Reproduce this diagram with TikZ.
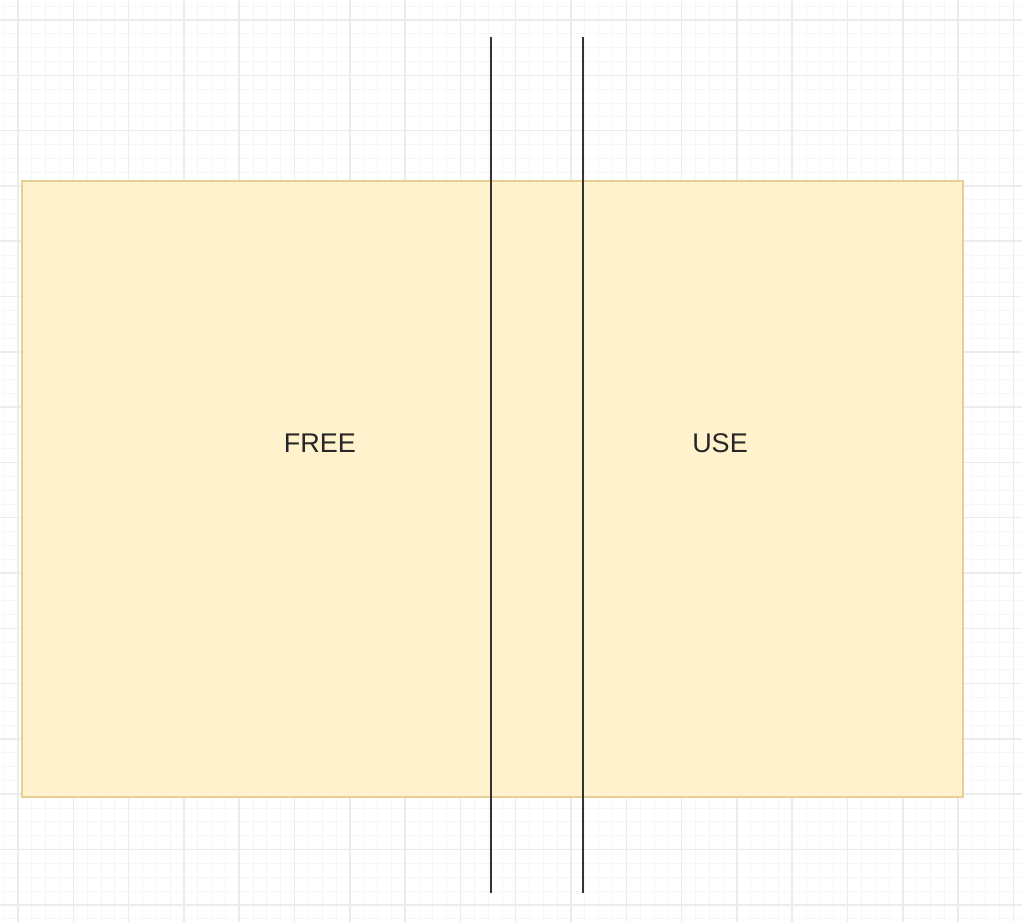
\documentclass[tikz,border=0pt]{standalone}
\usepackage{fontspec}
\setmainfont{Liberation Sans}
\definecolor{boxfill}{HTML}{FFF2CC}
\definecolor{boxline}{HTML}{E8CF95}
\definecolor{gridminor}{HTML}{F6F6F8}
\definecolor{gridmajor}{HTML}{ECECF0}
\tikzset{
	region/.style={draw=boxline,fill=boxfill,line width=1.2pt},
	lbl/.style={font=\fontsize{27}{30}\selectfont,text=black!85},
	wall/.style={draw=black!80,line width=1.6pt}
}

\begin{document}
\begin{tikzpicture}[x=1pt,y=-1pt]
	\fill[white] (0,0) rectangle (1022,922);
	\useasboundingbox (0,0) rectangle (1022,922);
	% fine grid, then the heavier one every fourth line
	\draw[gridminor,line width=0.8pt] \foreach \i in {0,...,74} {(4.2+13.825*\i,0) -- (4.2+13.825*\i,922)};
	\draw[gridminor,line width=0.8pt] \foreach \j in {0,...,67} {(0,6.2+13.825*\j) -- (1022,6.2+13.825*\j)};
	\draw[gridmajor,line width=1.5pt] \foreach \i in {0,...,18} {(18+55.3*\i,0) -- (18+55.3*\i,922)};
	\draw[gridmajor,line width=1.5pt] \foreach \j in {0,...,16} {(0,20+55.3*\j) -- (1022,20+55.3*\j)};

	\node [region,minimum width=941pt,minimum height=616pt,inner sep=0pt] (mem) at (492.5,489) {};
	\node [lbl] (free) at (320,443) {FREE};
	\node [lbl] (use) at (720,443) {USE};

	\coordinate (a1) at (491,37);
	\coordinate (a2) at (491,893);
	\coordinate (b1) at (583,37);
	\coordinate (b2) at (583,893);
	\draw [wall] (a1) -- (a2);
	\draw [wall] (b1) -- (b2);
\end{tikzpicture}
\end{document}
